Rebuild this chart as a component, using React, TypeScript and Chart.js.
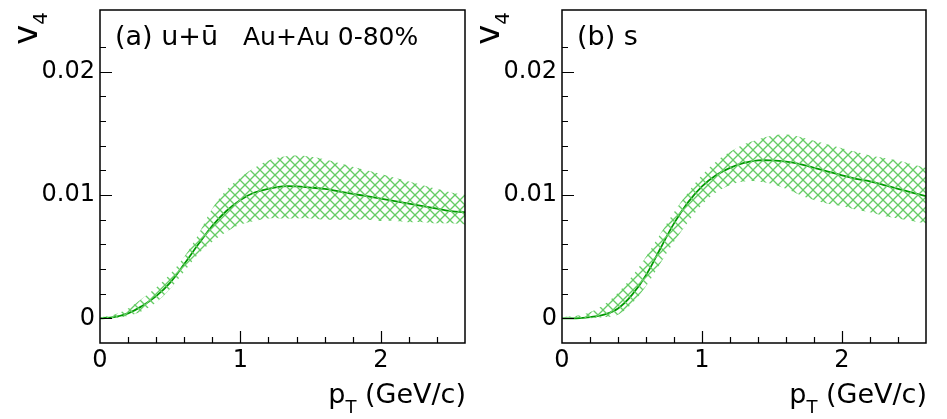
import React, { useEffect, useRef } from "react";
import { Chart, registerables } from "chart.js";

Chart.register(...registerables);

// ---- data ----
const PT = [0, 0.1, 0.2, 0.3, 0.4, 0.5, 0.6, 0.7, 0.8, 0.9, 1.0, 1.1, 1.2, 1.3, 1.4, 1.5, 1.6, 1.7, 1.8, 1.9, 2.0, 2.1, 2.2, 2.3, 2.4, 2.5, 2.6];

const U_CURVE = [0, 0.0001, 0.0004, 0.001, 0.0018, 0.0029, 0.0044, 0.006, 0.0075, 0.0087, 0.0096, 0.0102, 0.0105, 0.0107, 0.0107, 0.0106, 0.0105, 0.0103, 0.0101, 0.0099, 0.0097, 0.0095, 0.0093, 0.0091, 0.0089, 0.0087, 0.0086];
const U_UPPER = [0.0001, 0.0003, 0.0008, 0.0016, 0.0025, 0.0036, 0.005, 0.0068, 0.0089, 0.0104, 0.0114, 0.0122, 0.0128, 0.0131, 0.0132, 0.0131, 0.0129, 0.0126, 0.0123, 0.012, 0.0117, 0.0114, 0.0111, 0.0108, 0.0105, 0.0102, 0.01];
const U_LOWER = [0, 0, 0.0002, 0.0006, 0.0013, 0.0024, 0.0038, 0.0052, 0.0062, 0.007, 0.0076, 0.0079, 0.0081, 0.0081, 0.0081, 0.0081, 0.008, 0.008, 0.008, 0.008, 0.0079, 0.0079, 0.0078, 0.0078, 0.0077, 0.0077, 0.0076];

const S_CURVE = [0, 0, 0.0001, 0.0003, 0.0008, 0.0019, 0.0035, 0.0056, 0.0077, 0.0094, 0.0107, 0.0116, 0.0122, 0.0126, 0.0128, 0.0128, 0.0127, 0.0125, 0.0122, 0.0119, 0.0116, 0.0113, 0.0111, 0.0108, 0.0105, 0.0102, 0.0099];
const S_UPPER = [0.0001, 0.0002, 0.0005, 0.0011, 0.0021, 0.0034, 0.005, 0.0068, 0.0086, 0.0102, 0.0116, 0.0127, 0.0135, 0.0141, 0.0145, 0.0148, 0.0149, 0.0147, 0.0144, 0.0141, 0.0138, 0.0135, 0.0132, 0.013, 0.0128, 0.0125, 0.0122];
const S_LOWER = [0, 0, 0, 0.0001, 0.0003, 0.0012, 0.0026, 0.0044, 0.0062, 0.0078, 0.0092, 0.0102, 0.0108, 0.0111, 0.0111, 0.0109, 0.0105, 0.01, 0.0096, 0.0093, 0.0091, 0.0088, 0.0086, 0.0083, 0.0081, 0.0079, 0.0077];

const X_TICK_LABELS = [0, 1, 2];
const Y_TICK_LABELS = [0, 0.01, 0.02];
const X_RANGE = [0, 2.6];
const Y_RANGE = [-0.002, 0.025];

const FONT = '"DejaVu Sans", sans-serif';
const BAND_COLOR = "#66cc66";
const LINE_COLOR = "#009900";

function makeHatch(): CanvasPattern | string {
  const s = 10;
  const c = document.createElement("canvas");
  c.width = s;
  c.height = s;
  const g = c.getContext("2d");
  if (!g) return BAND_COLOR;
  g.strokeStyle = BAND_COLOR;
  g.lineWidth = 1.3;
  for (const o of [-s, 0, s]) {
    g.beginPath();
    g.moveTo(o, 0);
    g.lineTo(o + s, s);
    g.stroke();
    g.beginPath();
    g.moveTo(o + s, 0);
    g.lineTo(o, s);
    g.stroke();
  }
  const p = g.createPattern(c, "repeat");
  return p || BAND_COLOR;
}

const near = (a: number, b: number) => Math.abs(a - b) < 1e-9;

type PanelProps = {
  curve: number[];
  upper: number[];
  lower: number[];
  label: string;
  extra?: string;
  width: number;
  axisW: number;
  padRight: number;
  left: number;
};

function Panel({ curve, upper, lower, label, extra, width, axisW, padRight, left }: PanelProps) {
  const ref = useRef<HTMLCanvasElement | null>(null);

  useEffect(() => {
    if (!ref.current) return;
    const hatch = makeHatch();
    const pts = (arr: number[]) => PT.map((x, i) => ({ x, y: arr[i] }));

    const framePlugin = {
      id: "rootFrame",
      afterDraw(chart: any) {
        const { ctx, chartArea: a, scales } = chart;
        const xs = scales.x;
        const ys = scales.y;
        ctx.save();
        ctx.strokeStyle = "#000";
        ctx.lineWidth = 1.5;
        ctx.strokeRect(a.left, a.top, a.right - a.left, a.bottom - a.top);
        ctx.lineWidth = 1.2;
        ctx.beginPath();
        for (const t of ys.ticks) {
          const v = t.value;
          if (v <= Y_RANGE[0] + 1e-9 || v >= Y_RANGE[1] - 1e-9) continue;
          const py = Math.round(ys.getPixelForValue(v)) + 0.5;
          const len = Y_TICK_LABELS.some((l) => near(l, v)) ? 12 : 6;
          ctx.moveTo(a.left, py);
          ctx.lineTo(a.left + len, py);
        }
        for (const t of xs.ticks) {
          const v = t.value;
          if (v <= X_RANGE[0] + 1e-9 || v >= X_RANGE[1] - 1e-9) continue;
          const px = Math.round(xs.getPixelForValue(v)) + 0.5;
          const len = X_TICK_LABELS.some((l) => near(l, v)) ? 12 : 6;
          ctx.moveTo(px, a.bottom);
          ctx.lineTo(px, a.bottom - len);
        }
        ctx.stroke();

        ctx.fillStyle = "#000";
        ctx.textBaseline = "alphabetic";
        // panel label
        ctx.textAlign = "left";
        ctx.font = `27px ${FONT}`;
        ctx.fillText(label, a.left + 15, a.top + 35);
        if (extra) {
          ctx.font = `25px ${FONT}`;
          ctx.fillText(extra, a.left + 143, a.top + 35);
        }

        // x title: p_T (GeV/c), right-aligned to the frame
        const main = " (GeV/c)";
        ctx.font = `27px ${FONT}`;
        const wMain = ctx.measureText(main).width;
        const wP = ctx.measureText("p").width;
        ctx.font = `18px ${FONT}`;
        const wT = ctx.measureText("T").width;
        const xEnd = a.right + 1;
        const base = 403;
        ctx.font = `27px ${FONT}`;
        ctx.fillText(main, xEnd - wMain, base);
        ctx.fillText("p", xEnd - wMain - wT - wP, base);
        ctx.font = `18px ${FONT}`;
        ctx.fillText("T", xEnd - wMain - wT, base + 10);

        // y title: v_4, rotated, ending at top of the frame
        ctx.translate(a.left - 63, a.top);
        ctx.rotate(-Math.PI / 2);
        ctx.font = `34px ${FONT}`;
        const wv = ctx.measureText("v").width;
        ctx.font = `20px ${FONT}`;
        const w4 = ctx.measureText("4").width;
        const x0 = -2 - wv - w4;
        ctx.font = `34px ${FONT}`;
        ctx.fillText("v", x0, 0);
        ctx.font = `20px ${FONT}`;
        ctx.fillText("4", x0 + wv, 10);
        ctx.restore();
      },
    };

    const noPad = (s: any) => {
      s.paddingTop = 0;
      s.paddingBottom = 0;
      s.paddingLeft = 0;
      s.paddingRight = 0;
    };

    const chart = new Chart(ref.current, {
      type: "line",
      data: {
        datasets: [
          {
            data: pts(upper),
            borderWidth: 0,
            pointRadius: 0,
            backgroundColor: hatch as any,
            fill: "+1",
            tension: 0.4,
          },
          {
            data: pts(lower),
            borderWidth: 0,
            pointRadius: 0,
            fill: false,
            tension: 0.4,
          },
          {
            data: pts(curve),
            borderColor: LINE_COLOR,
            borderWidth: 1.8,
            pointRadius: 0,
            fill: false,
            tension: 0.4,
          },
        ],
      },
      options: {
        animation: false,
        responsive: false,
        devicePixelRatio: 1,
        layout: { padding: { top: 10, right: padRight, left: 0, bottom: 0 } },
        plugins: { legend: { display: false }, tooltip: { enabled: false } },
        scales: {
          x: {
            type: "linear",
            min: X_RANGE[0],
            max: X_RANGE[1],
            grid: { display: false, drawTicks: false },
            border: { display: false },
            ticks: {
              stepSize: 0.2,
              autoSkip: false,
              maxRotation: 0,
              padding: 3,
              color: "#000",
              font: { family: FONT, size: 24 },
              callback: (v: any) => {
                const l = X_TICK_LABELS.find((t) => near(t, Number(v)));
                return l === undefined ? "" : String(l);
              },
            },
            afterFit: (s: any) => {
              s.height = 76;
              noPad(s);
            },
          },
          y: {
            type: "linear",
            min: Y_RANGE[0],
            max: Y_RANGE[1],
            grid: { display: false, drawTicks: false },
            border: { display: false },
            ticks: {
              stepSize: 0.002,
              autoSkip: false,
              padding: 5,
              color: "#000",
              font: { family: FONT, size: 24 },
              callback: (v: any) => {
                const l = Y_TICK_LABELS.find((t) => near(t, Number(v)));
                return l === undefined ? "" : String(l);
              },
            },
            afterFit: (s: any) => {
              s.width = axisW;
              noPad(s);
            },
          },
        },
      },
      plugins: [framePlugin],
    } as any);
    return () => chart.destroy();
  }, []);

  return (
    <canvas
      ref={ref}
      width={width}
      height={419}
      style={{ position: "absolute", left, top: 0, width, height: 419 }}
    />
  );
}

export default function App() {
  return (
    <div style={{ position: "absolute", left: 0, top: 0, width: 947, height: 419, background: "#fff" }}>
      <Panel curve={U_CURVE} upper={U_UPPER} lower={U_LOWER} label="(a) u+ū" extra="Au+Au 0-80%" width={473} axisW={100} padRight={8} left={0} />
      <Panel curve={S_CURVE} upper={S_UPPER} lower={S_LOWER} label="(b) s" width={474} axisW={89} padRight={21} left={473} />
    </div>
  );
}
